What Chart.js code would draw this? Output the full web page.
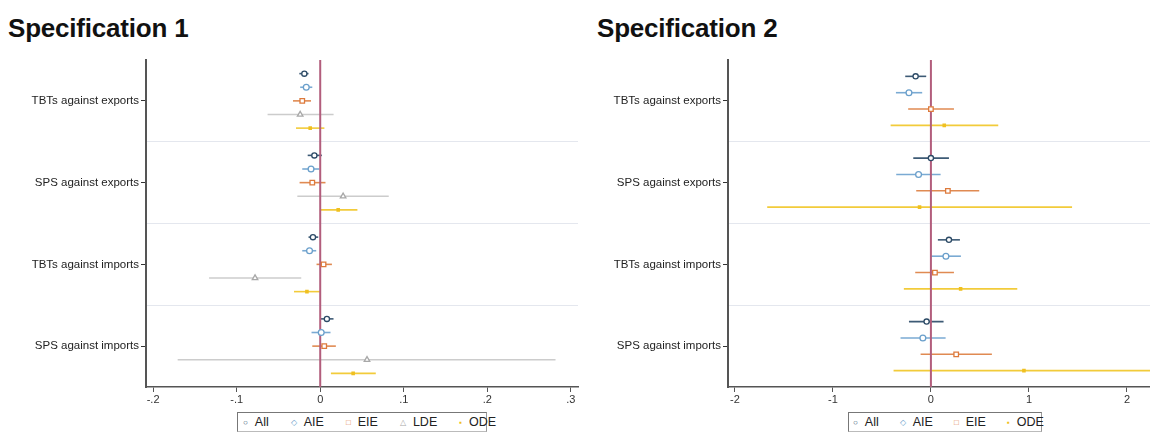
<!DOCTYPE html>
<html>
<head>
<meta charset="utf-8">
<script src="https://cdn.jsdelivr.net/npm/chart.js@4.4.1/dist/chart.umd.min.js"></script>
<style>
  body { margin: 0; background: #fff; font-family: "Liberation Sans", Arial, sans-serif; }
  #page { position: relative; width: 1150px; height: 439px; overflow: hidden; }
  .title { position: absolute; top: 13px; font-size: 26px; font-weight: bold; color: #111; letter-spacing: -0.2px; }
  .box { position: absolute; top: 51px; height: 356px; }
  .legend { position: absolute; top: 412px; height: 20px; border: 1px solid #777; border-bottom-color: #bbb; border-right-color: #999;
            display: flex; align-items: center; font-size: 12.5px; color: #222; box-sizing: border-box; }
  .legend span.item { display: inline-flex; align-items: center; }
  .legend span.m { font-size: 8px; margin-right: 7px; }
</style>
</head>
<body>
<div id="page">
  <div class="title" style="left:8px">Specification 1</div>
  <div class="title" style="left:597px">Specification 2</div>
  <div class="box" style="left:0;width:590px"><canvas id="c1"></canvas></div>
  <div class="box" style="left:590px;width:560px"><canvas id="c2"></canvas></div>
  <div class="legend" id="leg1" style="left:237px;width:250px;padding-left:5px"></div>
  <div class="legend" id="leg2" style="left:848px;width:194px;padding-left:4px"></div>
</div>
<script>
// categories (top to bottom)
const categories = ['TBTs against exports', 'SPS against exports', 'TBTs against imports', 'SPS against imports'];

// Specification 1: [estimate, lower, upper] per category
const s1All = [[-0.019, -0.025, -0.014], [-0.007, -0.015, 0.002], [-0.0087, -0.014, -0.0024], [0.008, 0.0008, 0.0159]];
const s1AIE = [[-0.0167, -0.024, -0.0095], [-0.011, -0.0215, -0.0012], [-0.0128, -0.0215, -0.0048], [0.0012, -0.0104, 0.0123]];
const s1EIE = [[-0.0215, -0.0326, -0.011], [-0.0095, -0.0247, 0.0063], [0.004, -0.0044, 0.014], [0.0048, -0.0095, 0.0187]];
const s1LDE = [[-0.024, -0.063, 0.016], [0.0274, -0.0274, 0.082], [-0.078, -0.133, -0.0227], [0.056, -0.1706, 0.2816]];
const s1ODE = [[-0.012, -0.029, 0.005], [0.0215, -0.0004, 0.0445], [-0.0159, -0.0314, -0.0004], [0.0394, 0.0128, 0.0665]];

// Specification 2
const s2All = [[-0.156, -0.262, -0.048], [0.0, -0.18, 0.184], [0.184, 0.071, 0.296], [-0.044, -0.224, 0.129]];
const s2AIE = [[-0.224, -0.357, -0.089], [-0.126, -0.354, 0.099], [0.153, 0.003, 0.306], [-0.082, -0.31, 0.15]];
const s2EIE = [[0.0, -0.232, 0.235], [0.173, -0.15, 0.493], [0.041, -0.16, 0.235], [0.258, -0.105, 0.622]];
const s2ODE = [[0.136, -0.411, 0.687], [-0.116, -1.67, 1.44], [0.303, -0.276, 0.881], [0.949, -0.381, 2.3]];

const xTicks1 = [-0.2, -0.1, 0, 0.1, 0.2, 0.3];
const xTicks2 = [-2, -1, 0, 1, 2];

// series styles
const styles = {
  All: { color: '#2c4a66', line: '#3d5a75', point: 'circle', r: 2.6, fill: '#fff', glyph: '○' },
  AIE: { color: '#6a9fcb', line: '#7aaad3', point: 'circle', r: 2.9, fill: '#fff', glyph: '◇' },
  EIE: { color: '#dd7a3c', line: '#e08a52', point: 'rect', r: 3.2, fill: '#fff', glyph: '□' },
  LDE: { color: '#a8a8a8', line: '#cccccc', point: 'triangle', r: 3.2, fill: '#fff', glyph: '△' },
  ODE: { color: '#f0c020', line: '#f2cb3a', point: 'rect', r: 1.6, fill: '#f0c020', glyph: '▪' }
};

function buildChart(id, series, xmin, xmax, xTicks, yWidth, padRight, fmt) {
  const n = series.length;
  const step = n === 5 ? 1 / 6 : 0.2;
  const datasets = [];
  series.forEach(([name, vals], i) => {
    const st = styles[name];
    const off = (i - (n - 1) / 2) * step;
    vals.forEach((v, k) => {
      datasets.push({
        data: [{ x: v[1], y: k + 1 + off }, { x: v[2], y: k + 1 + off }],
        showLine: true, borderColor: st.line, borderWidth: 1.6, pointRadius: 0, order: 3
      });
    });
    datasets.push({
      label: name,
      data: vals.map((v, k) => ({ x: v[0], y: k + 1 + off })),
      pointStyle: st.point, pointRadius: st.r, pointBorderWidth: 1.3,
      pointBorderColor: st.color, pointBackgroundColor: st.fill, order: 1
    });
  });
  // zero reference line
  datasets.push({
    data: [{ x: 0, y: 0.5 }, { x: 0, y: 4.5 }],
    showLine: true, borderColor: '#b25d7c', borderWidth: 2, pointRadius: 0, order: 2
  });

  return new Chart(document.getElementById(id), {
    type: 'scatter',
    data: { datasets },
    options: {
      responsive: true,
      maintainAspectRatio: false,
      animation: false,
      layout: { autoPadding: false, padding: { top: 9, right: padRight, left: 0, bottom: 0 } },
      plugins: { legend: { display: false }, tooltip: { enabled: false } },
      scales: {
        x: {
          type: 'linear', min: xmin, max: xmax,
          afterBuildTicks: s => { s.ticks = xTicks.map(v => ({ value: v })); },
          afterFit: s => { s.height = 20; s.paddingLeft = 0; s.paddingRight = 0; },
          ticks: { callback: fmt, color: '#333', font: { family: 'Liberation Sans', size: 11 }, padding: 1, maxRotation: 0 },
          grid: { drawOnChartArea: false, drawTicks: true, tickLength: 5, tickColor: '#555' },
          border: { color: '#555', width: 1.5 }
        },
        y: {
          type: 'linear', min: 0.5, max: 4.5, reverse: true,
          afterBuildTicks: s => { s.ticks = [1, 1.5, 2, 2.5, 3, 3.5, 4].map(v => ({ value: v })); },
          afterFit: s => { s.width = yWidth; s.paddingTop = 0; s.paddingBottom = 0; },
          ticks: {
            callback: v => (v % 1 === 0 ? categories[v - 1] : ''),
            color: '#222', font: { family: 'Liberation Sans', size: 11.5 }, padding: 2
          },
          grid: {
            color: c => (c.tick && c.tick.value % 1 !== 0 ? '#e4e7ee' : 'rgba(0,0,0,0)'),
            tickColor: c => (c.tick && c.tick.value % 1 === 0 ? '#333' : 'rgba(0,0,0,0)'),
            tickLength: 5, lineWidth: 1
          },
          border: { color: '#555', width: 2 }
        }
      }
    }
  });
}

const fmt1 = v => (v === 0 ? '0' : (v < 0 ? '-' : '') + String(Math.abs(v)).replace(/^0/, ''));
const fmt2 = v => String(v);

buildChart('c1', [['All', s1All], ['AIE', s1AIE], ['EIE', s1EIE], ['LDE', s1LDE], ['ODE', s1ODE]],
  -0.2085, 0.3085, xTicks1, 146, 12, fmt1);
buildChart('c2', [['All', s2All], ['AIE', s2AIE], ['EIE', s2EIE], ['ODE', s2ODE]],
  -2.07, 2.235, xTicks2, 138, 0, fmt2);

function legend(id, names, gap) {
  const el = document.getElementById(id);
  names.forEach(nm => {
    const it = document.createElement('span');
    it.className = 'item';
    it.style.marginRight = gap + 'px';
    it.innerHTML = '<span class="m" style="color:' + styles[nm].color + '">' + styles[nm].glyph + '</span>' + nm;
    el.appendChild(it);
  });
}
legend('leg1', ['All', 'AIE', 'EIE', 'LDE', 'ODE'], 22);
legend('leg2', ['All', 'AIE', 'EIE', 'ODE'], 21);
</script>
</body>
</html>
